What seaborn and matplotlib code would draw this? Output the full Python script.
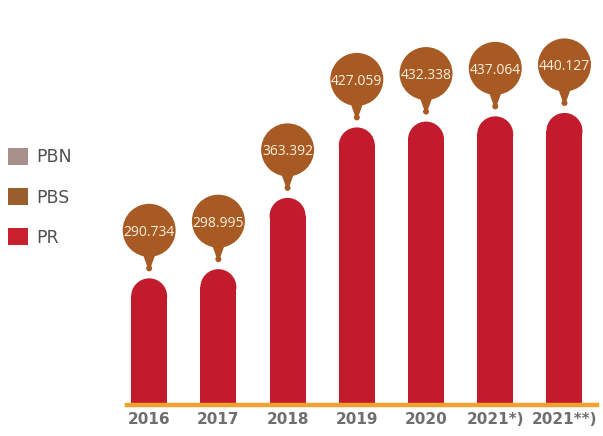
import matplotlib
matplotlib.use("Agg")
import matplotlib.pyplot as plt
import seaborn as sns
import pandas as pd
from matplotlib.patches import Circle, Polygon, Patch
from matplotlib.transforms import ScaledTranslation

# ---- data ----
years = ["2016", "2017", "2018", "2019", "2020", "2021*)", "2021**)"]
values = [290734, 298995, 363392, 427059, 432338, 437064, 440127]
value_labels = ["290.734", "298.995", "363.392", "427.059", "432.338", "437.064", "440.127"]
legend_labels = ["PBN", "PBS", "PR"]

# ---- style ----
RED = "#C21B2C"
BROWN = "#A85A24"
ORANGE = "#F2A12E"
legend_colors = ["#A8918A", "#9A5E2C", "#C8202F"]
TEXT_GRAY = "#6E6E6E"

sns.set_theme(style="white")
plt.rcParams["font.family"] = ["DejaVu Sans"]

DPI = 100
fig = plt.figure(figsize=(6.03, 4.36), dpi=DPI)
ax = fig.add_axes([127 / 603, 31 / 436, 470 / 603, 405 / 436])

df = pd.DataFrame({"year": years, "value": values})
sns.barplot(data=df, x="year", y="value", color=RED, saturation=1, width=0.52, ax=ax)

ax.set_xlim(-0.32, 6.47)
ax.set_ylim(176300, 542150)
for s in ["top", "right", "left"]:
    ax.spines[s].set_visible(False)
ax.spines["bottom"].set_color(ORANGE)
ax.spines["bottom"].set_linewidth(3.2)
ax.spines["bottom"].set_zorder(6)
ax.set_yticks([])
ax.set_xlabel("")
ax.set_ylabel("")
ax.tick_params(axis="x", length=0, pad=5, labelsize=11, labelcolor=TEXT_GRAY)
for t in ax.get_xticklabels():
    t.set_fontweight("bold")

fig.canvas.draw()

# rounded tops for the bars + callout bubbles
px = 1.0 / DPI  # inches per pixel
y0_disp = ax.transData.transform((0, ax.get_ylim()[0]))[1]
y1_disp = ax.transData.transform((0, ax.get_ylim()[0] + 1))[1]
disp_per_unit = y1_disp - y0_disp

for p, lab in zip(ax.patches, value_labels):
    x, w, h = p.get_x(), p.get_width(), p.get_height()
    xc = x + w / 2
    w_disp = ax.transData.transform((x + w, 0))[0] - ax.transData.transform((x, 0))[0]
    r_disp = w_disp / 2
    p.set_height(h - r_disp / disp_per_unit)
    p.set_edgecolor("none")
    base = fig.dpi_scale_trans + ScaledTranslation(xc, h, ax.transData)
    # cap
    ax.add_patch(Circle((0, -r_disp * px), r_disp * px, transform=base,
                        facecolor=RED, edgecolor="none", zorder=p.get_zorder()))
    # bubble
    ax.add_patch(Circle((0, 48 * px), 26.5 * px, transform=base,
                        facecolor=BROWN, edgecolor="none", zorder=4, clip_on=False))
    ax.add_patch(Polygon([(-7 * px, 26 * px), (7 * px, 26 * px),
                          (1.6 * px, 11 * px), (-1.6 * px, 11 * px)],
                         closed=True, transform=base, facecolor=BROWN,
                         edgecolor="none", zorder=4, clip_on=False))
    ax.add_patch(Circle((0, 10 * px), 3 * px, transform=base,
                        facecolor=BROWN, edgecolor="none", zorder=4, clip_on=False))
    ax.text(0, 46 * px, lab, transform=base, ha="center", va="center",
            fontsize=10, color="#FFF0DC", family=["Open Sans", "DejaVu Sans"],
            zorder=5, clip_on=False)

# legend
handles = [Patch(facecolor=c, edgecolor="none", label=l)
           for c, l in zip(legend_colors, legend_labels)]
fig.legend(handles=handles, loc="upper left",
           bbox_to_anchor=(8 / 603, 1 - 148 / 436), frameon=False,
           fontsize=12.5, handlelength=1.15, handleheight=1.15,
           handletextpad=0.5, labelspacing=1.24, borderpad=0, borderaxespad=0,
           labelcolor="#505050")

fig.savefig("out.png", dpi=DPI)
